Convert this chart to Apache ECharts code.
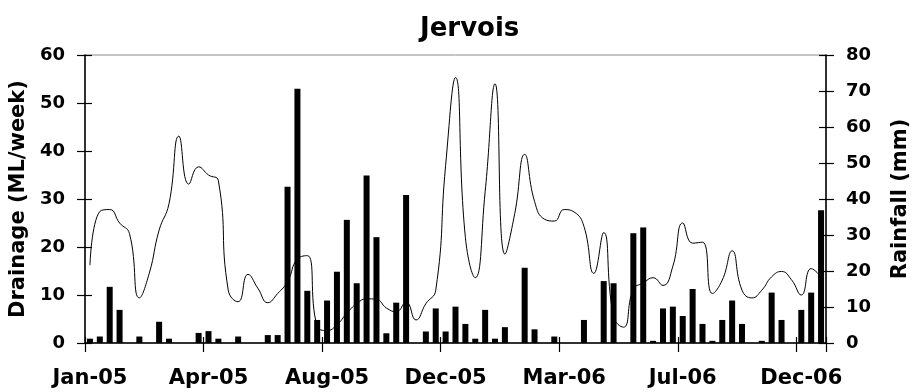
<!DOCTYPE html>
<html>
<head>
<meta charset="utf-8">
<title>Jervois</title>
<script src="https://cdn.jsdelivr.net/npm/echarts@6/dist/echarts.min.js"></script>
<style>
  html, body { margin: 0; padding: 0; background: #fff; }
  #chart { width: 919px; height: 392px; }
</style>
</head>
<body>
<div id="chart"></div>
<script>
// Weekly drainage (ML/week) and weekly rainfall (mm), Jan 2005 - Dec 2006
const drainage = [
  16.2, 27.4, 27.8, 25.0, 22.8, 9.4, 14.5, 23.5, 29.0, 43.1,
  33.1, 36.7, 35.0, 33.8, 11.0, 8.6, 14.3, 11.4, 8.4, 10.3,
  12.8, 17.5, 18.2, 3.5, 2.6, 3.8, 6.2, 8.2, 9.2, 9.1,
  7.3, 6.5, 8.5, 4.8, 8.2, 11.0, 37.0, 55.3, 22.0, 13.6,
  31.5, 54.0, 18.5, 27.0, 39.3, 29.5, 25.8, 25.4, 27.8, 27.3,
  24.3, 14.5, 23.0, 5.5, 3.3, 11.2, 12.5, 13.6, 12.0, 16.0,
  25.0, 20.8, 21.0, 10.3, 13.1, 19.2, 11.0, 9.4, 11.0, 13.8,
  14.9, 13.2, 10.0, 15.5, 13.8
];

const rainfall = [
  1.2, 1.8, 15.6, 9.2, 0, 1.8, 0, 5.9, 1.2, 0,
  0, 2.8, 3.3, 1.2, 0, 1.8, 0, 0, 2.2, 2.2,
  43.4, 70.6, 14.5, 6.4, 11.8, 19.8, 34.2, 16.6, 46.5, 29.4,
  2.7, 11.2, 41.1, 0, 3.2, 9.6, 3.2, 10.1, 5.3, 1.2,
  9.2, 1.2, 4.4, 0, 20.9, 3.8, 0, 1.8, 0, 0,
  6.4, 0, 17.2, 16.6, 0, 30.5, 32.1, 0.6, 9.6, 10.1,
  7.5, 15.0, 5.3, 0.6, 6.4, 11.8, 5.3, 0, 0.6, 14.0,
  6.4, 0, 9.2, 14.0, 36.9
];

// Month labels shown on every 12th week
const tickLabels = ['Jan-05', 'Apr-05', 'Aug-05', 'Dec-05', 'Mar-06', 'Jul-06', 'Dec-06'];
const labelStep = 12;

const weeks = rainfall.map((_, i) => String(i + 1));

const FONT = 'DejaVu Sans';
const AXIS = '#000';

const chart = echarts.init(document.getElementById('chart'), null, { renderer: 'canvas' });

const baseY = (pos, max) => ({
  type: 'value',
  position: pos,
  min: 0,
  max: max,
  interval: 10,
  splitLine: { show: false }
});

chart.setOption({
  animation: false,
  backgroundColor: '#fff',
  title: {
    text: 'Jervois',
    left: 415,
    top: 11,
    textStyle: { fontFamily: FONT, fontWeight: 'bold', fontSize: 26, color: '#000' }
  },
  grid: {
    left: 85, right: 87, top: 55, bottom: 49,
    show: true, borderColor: '#8a8a8a', borderWidth: 1, backgroundColor: 'transparent'
  },
  xAxis: [
    {
      type: 'category',
      data: weeks,
      boundaryGap: true,
      axisLine: { show: true, lineStyle: { color: AXIS, width: 1.5 } },
      axisTick: { show: true, interval: labelStep - 1, length: 9, lineStyle: { color: AXIS, width: 1.2 } },
      axisLabel: {
        interval: labelStep - 1,
        margin: 25,
        fontFamily: FONT, fontWeight: 'bold', fontSize: 21, color: '#000',
        formatter: (v, i) => tickLabels[i / labelStep] || ''
      },
      splitLine: { show: false }
    },
    {
      type: 'category',
      data: weeks,
      boundaryGap: true,
      position: 'bottom',
      axisLine: { show: false },
      axisTick: { show: true, inside: true, interval: labelStep - 1, length: 6, lineStyle: { color: AXIS, width: 1.2 } },
      axisLabel: { show: false },
      splitLine: { show: false }
    }
  ],
  yAxis: [
    Object.assign(baseY('left', 60), {
      name: 'Drainage (ML/week)',
      nameLocation: 'middle',
      nameRotate: 90,
      nameGap: 50,
      nameTextStyle: { fontFamily: FONT, fontWeight: 'bold', fontSize: 21, color: '#000' },
      axisLine: { show: true, lineStyle: { color: AXIS, width: 1.5 } },
      axisTick: { show: true, length: 8, lineStyle: { color: AXIS, width: 1.2 } },
      axisLabel: { margin: 20, fontFamily: FONT, fontWeight: 'bold', fontSize: 18, color: '#000' }
    }),
    Object.assign(baseY('right', 80), {
      name: 'Rainfall (mm)',
      nameLocation: 'middle',
      nameRotate: 90,
      nameGap: 64,
      nameTextStyle: { fontFamily: FONT, fontWeight: 'bold', fontSize: 21, color: '#000' },
      axisLine: { show: true, lineStyle: { color: AXIS, width: 1.5 } },
      axisTick: { show: true, length: 8, lineStyle: { color: AXIS, width: 1.2 } },
      axisLabel: { margin: 20, fontFamily: FONT, fontWeight: 'bold', fontSize: 18, color: '#000' }
    }),
    Object.assign(baseY('left', 60), {
      axisLine: { show: false },
      axisTick: { show: true, inside: true, length: 7, lineStyle: { color: AXIS, width: 1.2 } },
      axisLabel: { show: false }
    }),
    Object.assign(baseY('right', 80), {
      axisLine: { show: false },
      axisTick: { show: true, inside: true, length: 7, lineStyle: { color: AXIS, width: 1.2 } },
      axisLabel: { show: false }
    })
  ],
  series: [
    {
      name: 'Rainfall (mm)',
      type: 'bar',
      xAxisIndex: 0,
      yAxisIndex: 1,
      data: rainfall,
      barWidth: 6,
      itemStyle: { color: '#000' },
      z: 2
    },
    {
      name: 'Drainage (ML/week)',
      type: 'line',
      xAxisIndex: 0,
      yAxisIndex: 0,
      data: drainage,
      smooth: 0.5,
      showSymbol: false,
      symbol: 'none',
      lineStyle: { color: '#000', width: 1 },
      z: 3
    }
  ]
});
</script>
</body>
</html>
